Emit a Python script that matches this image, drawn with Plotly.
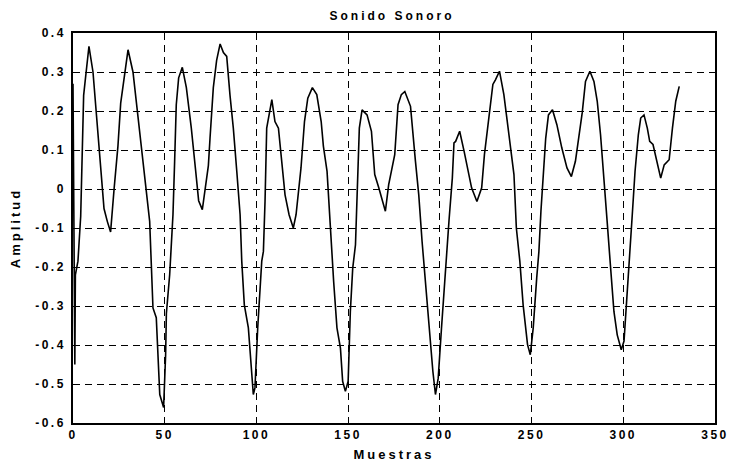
import plotly.graph_objects as go

# Samples (x) and amplitude (y)
muestras = [0, 1, 1.3, 2.7, 4.2, 4.9, 5.8, 6.7, 8.7, 10.9, 12.7, 14.5, 16.9, 18.7, 20.5,
            22.4, 24.5, 26, 27.8, 30, 32.7, 35.1, 37.6, 40, 41.8, 43.6, 45.4, 47.3, 49.4,
            50.5, 50.9, 52.7, 54.5, 55.4, 56.3, 57.6, 59.6, 61.8, 64.5, 66.8, 68.5, 70.5,
            72, 73.8, 74.7, 76.5, 78.3, 80.2, 82, 83.8, 85.6, 87.4, 89.3, 91.1, 92, 93.4,
            95.6, 97.1, 98.3, 99.2, 100.7, 102.9, 103.8, 104.7, 105.6, 108.4, 110.1, 112,
            113.8, 115.6, 117.8, 120.1, 121.6, 122.9, 124.3, 126.2, 128, 130.5, 132.9,
            135.3, 136.5, 138.5, 140.3, 142.1, 143.9, 145.8, 147, 148.5, 150, 151.2, 152.5,
            154, 154.9, 156.1, 157.6, 160.3, 162.7, 164.5, 166.7, 170.3, 172.1, 173.9,
            175.4, 177.2, 179, 180.9, 184, 186.7, 188.5, 190.3, 192.1, 194, 196.2, 197.6,
            199.1, 200.9, 202.1, 204, 205, 206.8, 207.7, 208.6, 210.8, 213.2, 215.1, 217.3,
            220.2, 222.8, 224.3, 226.5, 228.9, 230.3, 232.5, 234.9, 237.5, 240.4, 241.7,
            243.6, 245.4, 247.8, 249.3, 250.9, 252.8, 254, 255.1, 256.4, 257.7, 259.2,
            261.4, 263.8, 266.5, 269.3, 271.7, 273.9, 275.7, 277.6, 279.4, 281.8, 284,
            285.8, 287.6, 289.4, 291.2, 293.1, 294.9, 296.7, 298.9, 300.4, 302.2, 303.5,
            304.9, 306.4, 308.2, 309.5, 311.3, 313.1, 314.4, 316.2, 318.1, 320.4, 322.3,
            325, 326.8, 328.6, 330.5]
amplitud = [0.27, -0.45, -0.22, -0.185, -0.07, 0.07, 0.24, 0.28, 0.366, 0.30, 0.20, 0.09,
            -0.05, -0.083, -0.11, 0.0, 0.11, 0.22, 0.28, 0.357, 0.30, 0.20, 0.097, 0.0,
            -0.083, -0.305, -0.33, -0.527, -0.56, -0.425, -0.32, -0.22, -0.066, 0.07,
            0.216, 0.285, 0.312, 0.26, 0.156, 0.05, -0.03, -0.053, 0.0, 0.06, 0.13, 0.26,
            0.33, 0.372, 0.35, 0.34, 0.24, 0.156, 0.045, -0.066, -0.185, -0.297, -0.356,
            -0.467, -0.527, -0.51, -0.356, -0.185, -0.16, -0.03, 0.156, 0.229, 0.173,
            0.156, 0.07, -0.015, -0.066, -0.10, -0.066, 0.0, 0.054, 0.173, 0.233, 0.26,
            0.242, 0.173, 0.11, 0.045, -0.10, -0.237, -0.356, -0.408, -0.493, -0.519,
            -0.493, -0.314, -0.203, -0.143, -0.015, 0.156, 0.203, 0.19, 0.148, 0.037,
            0.003, -0.057, 0.011, 0.054, 0.088, 0.216, 0.242, 0.25, 0.212, 0.071, -0.015,
            -0.134, -0.237, -0.356, -0.468, -0.527, -0.485, -0.356, -0.27, -0.15, -0.08,
            0.028, 0.118, 0.122, 0.148, 0.097, 0.054, 0.003, -0.032, 0.003, 0.088, 0.182,
            0.268, 0.28, 0.302, 0.242, 0.139, 0.037, -0.10, -0.185, -0.297, -0.399,
            -0.425, -0.356, -0.228, -0.16, -0.057, 0.037, 0.13, 0.19, 0.203, 0.165, 0.105,
            0.054, 0.032, 0.071, 0.135, 0.195, 0.276, 0.302, 0.276, 0.225, 0.139, 0.037,
            -0.083, -0.203, -0.314, -0.374, -0.412, -0.39, -0.27, -0.185, -0.066, 0.045,
            0.139, 0.182, 0.19, 0.156, 0.122, 0.114, 0.071, 0.028, 0.062, 0.075, 0.156,
            0.225, 0.263]

x_tickvals = [0, 50, 100, 150, 200, 250, 300, 350]
x_ticktext = ["0", "50", "100", "150", "200", "250", "300", "350"]
y_tickvals = [0.4, 0.3, 0.2, 0.1, 0, -0.1, -0.2, -0.3, -0.4, -0.5, -0.6]
y_ticktext = ["0.4", "0.3", "0.2", "0.1", "0", "-0.1", "-0.2", "-0.3", "-0.4", "-0.5", "-0.6"]

FAM = "Liberation Sans, Arial, sans-serif"

fig = go.Figure()
fig.add_trace(go.Scatter(x=muestras, y=amplitud, mode="lines",
                         line=dict(color="black", width=1.6), showlegend=False,
                         hoverinfo="skip"))

axis_common = dict(
    showline=True, linecolor="black", linewidth=1.5, mirror=True,
    showgrid=True, gridcolor="black", gridwidth=1.4, griddash="7px,5px",
    zeroline=False, ticks="inside", ticklen=4, tickcolor="black",
    automargin=False,
    tickfont=dict(family=FAM, size=12, color="black", weight="bold"),
)

fig.update_layout(
    width=730, height=462,
    margin=dict(l=73, r=15, t=33, b=39),
    paper_bgcolor="white", plot_bgcolor="white",
    font=dict(family=FAM, size=12, color="black"),
    title=dict(text="Sonido Sonoro", x=392 / 730, xanchor="center", y=1 - 16 / 462,
               yanchor="middle",
               font=dict(family=FAM, size=12, color="black", weight="bold")),
    xaxis=dict(range=[0, 350], tickvals=x_tickvals, ticktext=x_ticktext,
               title=dict(text="Muestras", standoff=10,
                          font=dict(family=FAM, size=13, color="black", weight="bold")),
               **axis_common),
    yaxis=dict(range=[-0.6, 0.4], tickvals=y_tickvals, ticktext=y_ticktext,
               ticklabelstandoff=3,
               title=dict(text="Amplitud", standoff=22,
                          font=dict(family=FAM, size=13, color="black", weight="bold")),
               **axis_common),
)

# wide letter spacing as in the scanned original
post = """
var s = document.createElement('style');
s.textContent = '.gtitle{letter-spacing:3px}' +
  '.xtitle,.ytitle{letter-spacing:3px}' +
  '.xtick text,.ytick text{letter-spacing:2.5px}';
document.head.appendChild(s);
"""

fig.write_html("out.html", post_script=post)
